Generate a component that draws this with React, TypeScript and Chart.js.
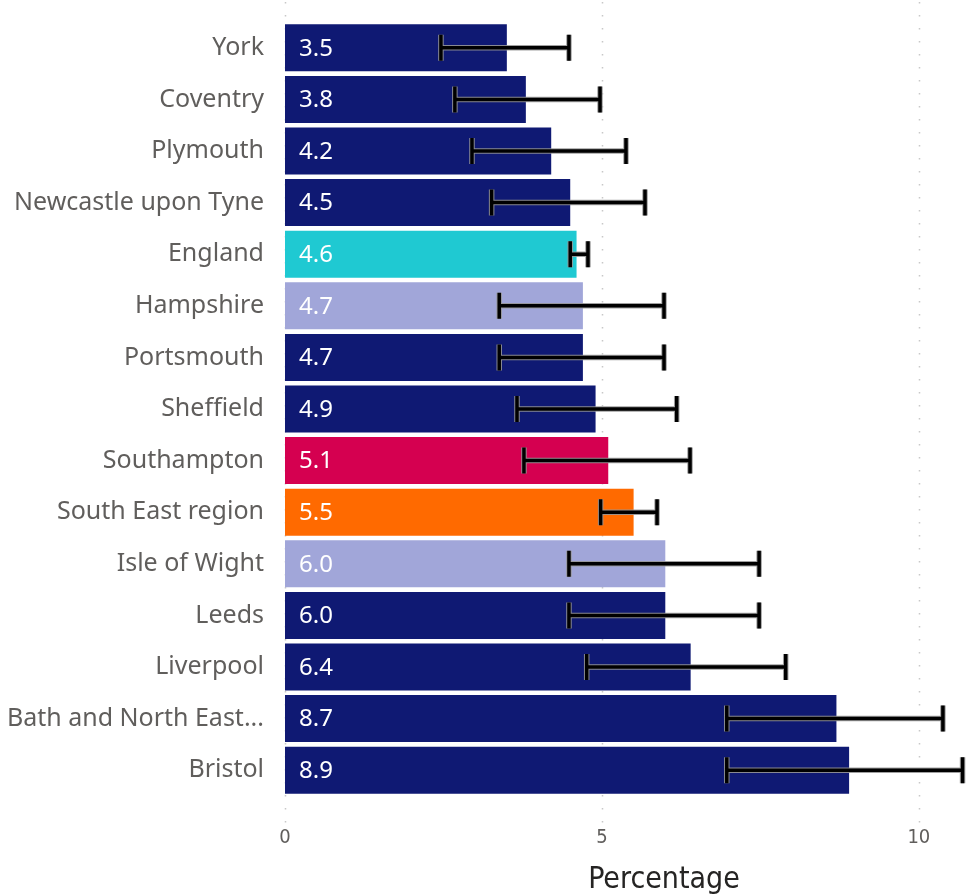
import React, { useEffect, useRef } from "react";
import { Chart, registerables } from "chart.js";

Chart.register(...registerables);

const categories = [
  "York", "Coventry", "Plymouth", "Newcastle upon Tyne", "England", "Hampshire",
  "Portsmouth", "Sheffield", "Southampton", "South East region", "Isle of Wight",
  "Leeds", "Liverpool", "Bath and North East...", "Bristol",
];
const values = [3.5, 3.8, 4.2, 4.5, 4.6, 4.7, 4.7, 4.9, 5.1, 5.5, 6.0, 6.0, 6.4, 8.7, 8.9];
const lowerCI = [2.46, 2.68, 2.95, 3.26, 4.5, 3.38, 3.38, 3.66, 3.77, 4.98, 4.48, 4.48, 4.76, 6.97, 6.97];
const upperCI = [4.48, 4.97, 5.38, 5.68, 4.78, 5.98, 5.98, 6.18, 6.39, 5.87, 7.48, 7.48, 7.9, 10.38, 10.69];
const groups = [
  "comparator", "comparator", "comparator", "comparator", "england", "neighbour",
  "comparator", "comparator", "local", "region", "neighbour",
  "comparator", "comparator", "comparator", "comparator",
];
const xTicks = [0, 5, 10];
const axisTitle = "Percentage";

const groupColors: Record<string, string> = {
  comparator: "#0f1973",
  england: "#1fc9d2",
  neighbour: "#a1a6d9",
  local: "#d50050",
  region: "#ff6a00",
};

const LABEL_FONT = "'Segoe UI', 'Noto Sans', 'Open Sans', sans-serif";
const NUM_FONT = "'DejaVu Sans Condensed', 'Roboto', sans-serif";

export default function App() {
  const ref = useRef<HTMLCanvasElement | null>(null);

  useEffect(() => {
    if (!ref.current) return;

    const overlay = {
      id: "overlay",
      beforeDatasetsDraw(chart: any) {
        const ctx = chart.ctx;
        const xs = chart.scales.x;
        ctx.save();
        ctx.strokeStyle = "#c8c8c8";
        ctx.lineWidth = 1.5;
        ctx.setLineDash([1.5, 11.5]);
        for (const t of xTicks) {
          const px = Math.round(xs.getPixelForValue(t)) + 0.5;
          ctx.beginPath();
          ctx.moveTo(px, 2);
          ctx.lineTo(px, 826);
          ctx.stroke();
        }
        ctx.restore();
      },
      afterDatasetsDraw(chart: any) {
        const ctx = chart.ctx;
        const xs = chart.scales.x;
        const meta = chart.getDatasetMeta(0);
        ctx.save();
        // value labels
        ctx.fillStyle = "#ffffff";
        ctx.font = `24px ${LABEL_FONT}`;
        ctx.textAlign = "left";
        ctx.textBaseline = "middle";
        meta.data.forEach((bar: any, i: number) => {
          ctx.fillText(values[i].toFixed(1), xs.getPixelForValue(0) + 14, bar.y + 1);
        });
        // error bars
        meta.data.forEach((bar: any, i: number) => {
          const x1 = xs.getPixelForValue(lowerCI[i]);
          const x2 = xs.getPixelForValue(upperCI[i]);
          const y = bar.y;
          const h = 13;
          const drawShape = () => {
            ctx.beginPath();
            ctx.moveTo(x1, y);
            ctx.lineTo(x2, y);
            ctx.moveTo(x1, y - h);
            ctx.lineTo(x1, y + h);
            ctx.moveTo(x2, y - h);
            ctx.lineTo(x2, y + h);
            ctx.stroke();
          };
          ctx.lineCap = "butt";
          ctx.strokeStyle = "rgba(150,150,150,0.9)";
          ctx.lineWidth = 5.5;
          drawShape();
          ctx.strokeStyle = "#000000";
          ctx.lineWidth = 3.5;
          drawShape();
        });
        ctx.restore();
      },
      afterDraw(chart: any) {
        const ctx = chart.ctx;
        ctx.save();
        ctx.fillStyle = "#252423";
        ctx.font = `30px ${NUM_FONT}`;
        ctx.textAlign = "center";
        ctx.textBaseline = "alphabetic";
        ctx.fillText(axisTitle, 664, 888);
        ctx.restore();
      },
    };

    const chart = new Chart(ref.current, {
      type: "bar",
      data: {
        labels: categories,
        datasets: [
          {
            data: values,
            backgroundColor: groups.map((g) => groupColors[g]),
            borderWidth: 0,
            categoryPercentage: 1,
            barPercentage: 0.91,
          },
        ],
      },
      options: {
        indexAxis: "y",
        responsive: false,
        animation: false,
        layout: { padding: { top: 22, right: 0, left: 0, bottom: 0 } },
        plugins: {
          legend: { display: false },
          tooltip: { enabled: false },
        },
        scales: {
          x: {
            type: "linear",
            min: 0,
            max: 10.76,
            border: { display: false },
            grid: { display: false, drawTicks: false },
            afterBuildTicks: (scale: any) => {
              scale.ticks = xTicks.map((v) => ({ value: v }));
            },
            afterFit: (scale: any) => {
              scale.height = 98;
              scale.paddingLeft = 0;
              scale.paddingRight = 0;
            },
            ticks: {
              padding: 30,
              color: "#605e5c",
              font: { size: 20, family: NUM_FONT },
              maxRotation: 0,
            },
          },
          y: {
            type: "category",
            border: { display: false },
            grid: { display: false, drawTicks: false },
            afterFit: (scale: any) => {
              scale.width = 285;
              scale.paddingTop = 0;
              scale.paddingBottom = 0;
            },
            ticks: {
              padding: 21,
              color: "#605e5c",
              font: { size: 25, family: LABEL_FONT },
              autoSkip: false,
            },
          },
        },
      },
      plugins: [overlay],
    });

    return () => chart.destroy();
  }, []);

  return (
    <div style={{ position: "fixed", left: 0, top: 0, width: 967, height: 894, background: "#fff" }}>
      <canvas ref={ref} width={967} height={894} style={{ display: "block", width: 967, height: 894 }} />
    </div>
  );
}
